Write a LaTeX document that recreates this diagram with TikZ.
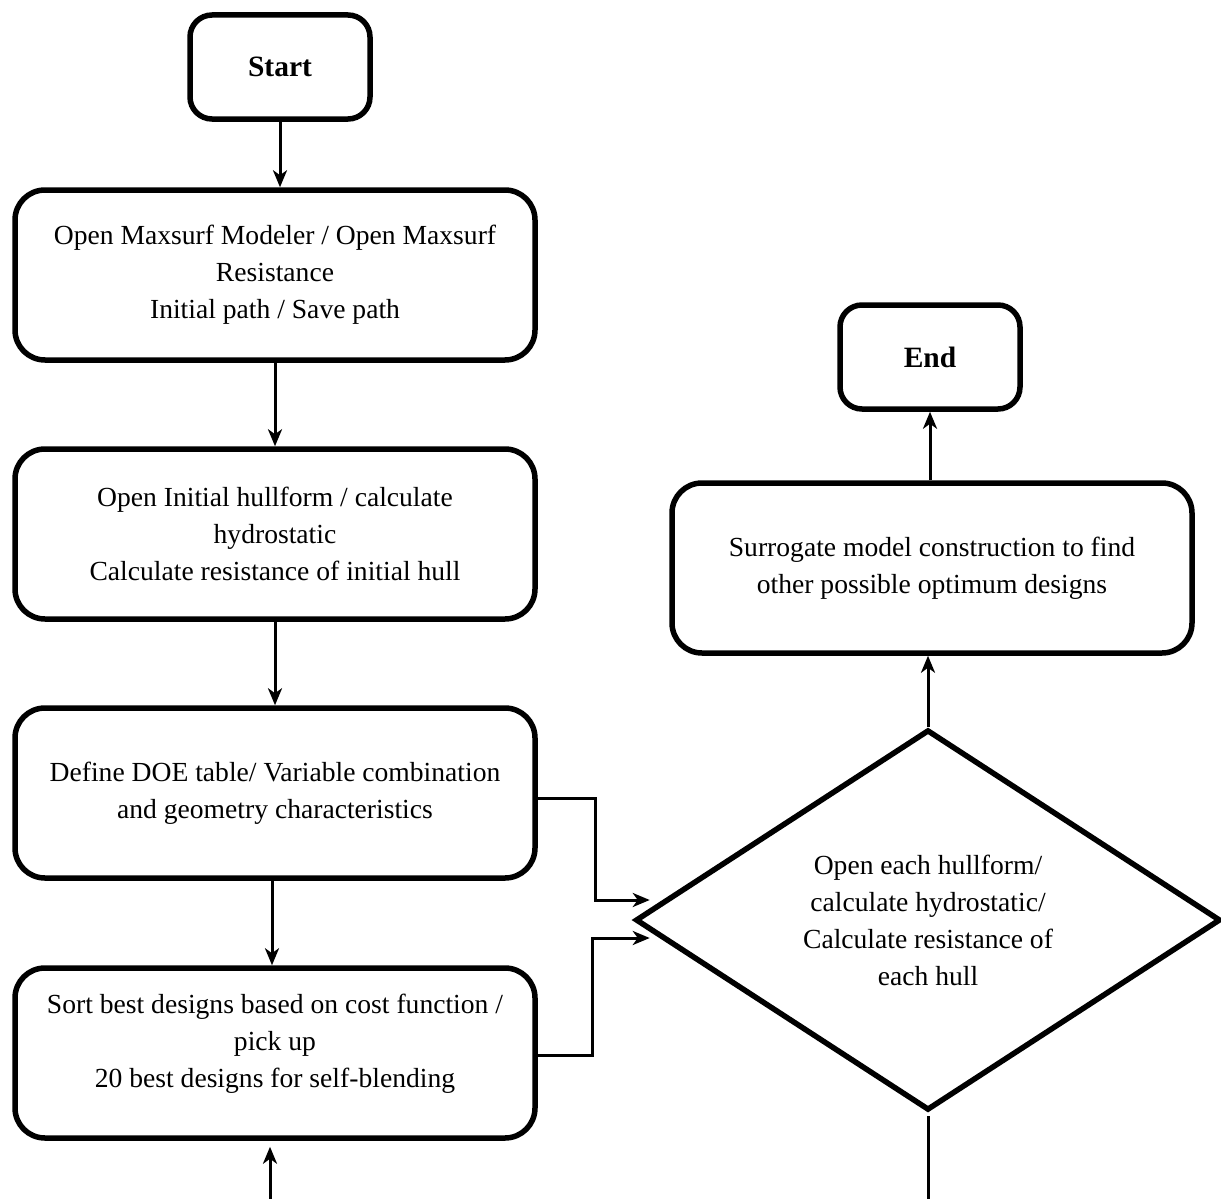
\documentclass[tikz,border=0pt]{standalone}
\usepackage{fontspec}
\setmainfont{Liberation Serif}
\usetikzlibrary{arrows.meta,positioning,shapes.geometric}

\begin{document}
\begin{tikzpicture}[
	x=1pt, y=-1pt,
	every node/.style={draw, line width=5.5pt, align=center, inner sep=0pt},
	term/.style={rectangle, rounded corners=22pt, minimum width=180pt, minimum height=104pt, font=\fontsize{29.5}{36}\selectfont\bfseries},
	proc/.style={rectangle, rounded corners=30pt, minimum width=520pt, minimum height=170pt, font=\fontsize{27.6}{37}\selectfont},
	decide/.style={diamond, minimum width=585pt, minimum height=375pt, font=\fontsize{27.6}{37}\selectfont},
	arr/.style={line width=3pt, -{Stealth[length=17pt,width=14pt,inset=5pt]}},
	link/.style={line width=3pt}
	]
	\useasboundingbox (0,0) rectangle (1221,1199);
	\node[term] (start) at (280,67) {Start};
	\node[proc] (modeler) at (275,275) {Open Maxsurf Modeler / Open Maxsurf\\ Resistance\\ Initial path / Save path};
	\node[proc] (initial) at (275,534) {Open Initial hullform / calculate\\ hydrostatic\\ Calculate resistance of initial hull};
	\node[proc] (doe) at (275,793) {Define DOE table/ Variable combination\\ and geometry characteristics};
	\node[proc] (sortbest) at (275,1053) {Sort best designs based on cost function /\\ pick up\\ 20 best designs for self-blending\\[-12pt]};
	\node[decide] (evaluate) at (928,920) {Open each hullform/\\ calculate hydrostatic/\\ Calculate resistance of\\ each hull};
	\node[proc] (surrogate) at (932,568) {Surrogate model construction to find\\ other possible optimum designs};
	\node[term] (stop) at (930,357) {End};
	\coordinate (fromloop) at (270,1199);
	\coordinate (toloop) at (928,1199);

	\draw[arr] (start.south) -- (start.south |- modeler.north);
	\draw[arr] (modeler) -- (initial);
	\draw[arr] (initial) -- (doe);
	\draw[arr] ([xshift=-3pt]doe.south) -- ([xshift=-3pt]sortbest.north);
	\draw[arr] ([yshift=-5pt]doe.east) -- ++(58,0) |- ([shift={(17,-20)}]evaluate.west);
	\draw[arr] ([yshift=-2pt]sortbest.east) -- ++(55,0) |- ([shift={(17,18)}]evaluate.west);
	\draw[arr] (evaluate.north) -- (evaluate.north |- surrogate.south);
	\draw[arr] (surrogate.north -| stop) -- (stop);
	\draw[arr, shorten >=6pt] (fromloop) -- (fromloop |- sortbest.south);
	\draw[link, shorten <=3pt] (evaluate.south) -- (toloop);
\end{tikzpicture}
\end{document}
